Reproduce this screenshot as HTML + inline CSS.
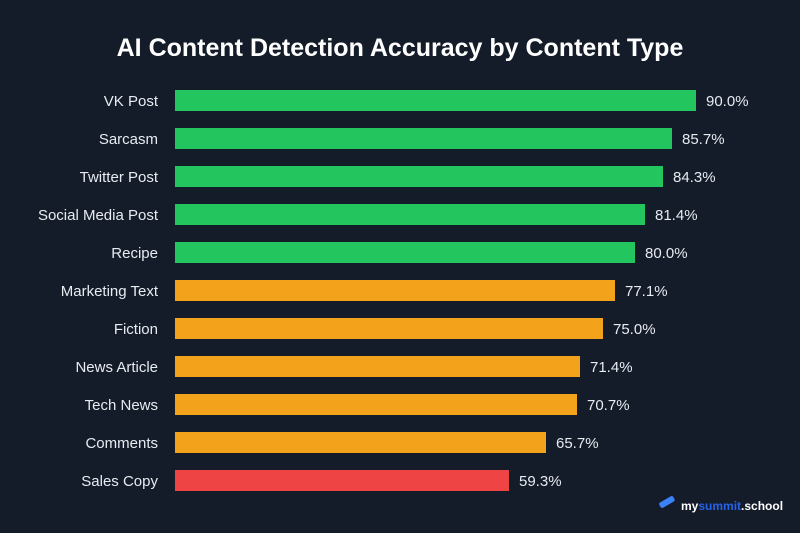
<!DOCTYPE html>
<html><head><style>
body{margin:0;background:#141c2a;}
svg{display:block}
text{font-family:"Liberation Sans",sans-serif}
</style></head><body>
<svg width="800" height="533" viewBox="0 0 800 533">
<rect width="800" height="533" fill="#141c2a"/>
<text x="400" y="56" fill="#fff" font-size="25" font-weight="bold" text-anchor="middle">AI Content Detection Accuracy by Content Type</text>
<g font-size="15" fill="#e8ebf0">
<g text-anchor="end">
<text x="158" y="106">VK Post</text>
<text x="158" y="144">Sarcasm</text>
<text x="158" y="182">Twitter Post</text>
<text x="158" y="220">Social Media Post</text>
<text x="158" y="258">Recipe</text>
<text x="158" y="296">Marketing Text</text>
<text x="158" y="334">Fiction</text>
<text x="158" y="372">News Article</text>
<text x="158" y="410">Tech News</text>
<text x="158" y="448">Comments</text>
<text x="158" y="486">Sales Copy</text>
</g>
<rect x="175" y="90" width="521" height="21" fill="#22c55e"/><text x="706" y="106">90.0%</text>
<rect x="175" y="128" width="497" height="21" fill="#22c55e"/><text x="682" y="144">85.7%</text>
<rect x="175" y="166" width="488" height="21" fill="#22c55e"/><text x="673" y="182">84.3%</text>
<rect x="175" y="204" width="470" height="21" fill="#22c55e"/><text x="655" y="220">81.4%</text>
<rect x="175" y="242" width="460" height="21" fill="#22c55e"/><text x="645" y="258">80.0%</text>
<rect x="175" y="280" width="440" height="21" fill="#f2a31b"/><text x="625" y="296">77.1%</text>
<rect x="175" y="318" width="428" height="21" fill="#f2a31b"/><text x="613" y="334">75.0%</text>
<rect x="175" y="356" width="405" height="21" fill="#f2a31b"/><text x="590" y="372">71.4%</text>
<rect x="175" y="394" width="402" height="21" fill="#f2a31b"/><text x="587" y="410">70.7%</text>
<rect x="175" y="432" width="371" height="21" fill="#f2a31b"/><text x="556" y="448">65.7%</text>
<rect x="175" y="470" width="334" height="21" fill="#ef4444"/><text x="519" y="486">59.3%</text>
</g>
<g transform="translate(660,506) rotate(-30)"><rect x="0" y="-3" width="16" height="6" rx="2" fill="#3b82f6"/></g>
<text x="681" y="510" font-size="12" font-weight="bold"><tspan fill="#fff">my</tspan><tspan fill="#2563eb">summit</tspan><tspan fill="#fff">.school</tspan></text>
</svg>
</body></html>
